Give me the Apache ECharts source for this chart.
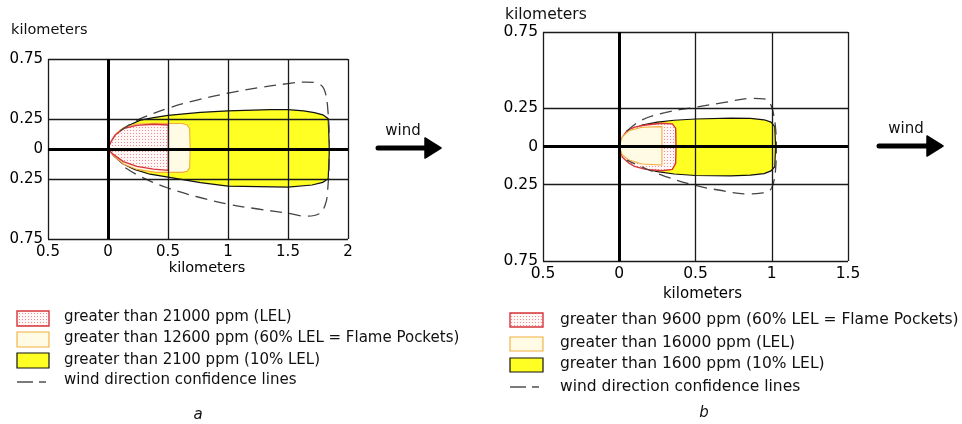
<!DOCTYPE html>
<html><head><meta charset="utf-8">
<script src="https://cdn.jsdelivr.net/npm/echarts@6/dist/echarts.min.js"></script>
<style>html,body{margin:0;padding:0;background:#fff}#c{width:962px;height:424px}</style>
</head><body><div id="c"></div>
<script>
// ---- tick values ----
const xTicksA = [-0.5, 0, 0.5, 1, 1.5, 2];
const xTicksB = [-0.5, 0, 0.5, 1, 1.5];
const yTicks = [-0.75, -0.25, 0, 0.25, 0.75];

// ---- panel a zones (km downwind, km crosswind) ----
const aYellow = [[0,0],[0.03,0.06],[0.07,0.12],[0.12,0.165],[0.18,0.2],[0.27,0.24],[0.38,0.262],[0.5,0.28],[0.77,0.305],[1.0,0.318],[1.35,0.328],[1.5,0.328],[1.63,0.317],[1.72,0.303],[1.79,0.285],[1.835,0.253],[1.845,0],[1.835,-0.247],[1.79,-0.278],[1.7,-0.3],[1.5,-0.317],[1.0,-0.31],[0.77,-0.28],[0.5,-0.235],[0.35,-0.21],[0.22,-0.17],[0.12,-0.12],[0.05,-0.06]];
const aCream = [[0,0],[0.03,0.07],[0.07,0.13],[0.13,0.18],[0.24,0.208],[0.4,0.215],[0.62,0.212],[0.66,0.2],[0.68,0.17],[0.685,0],[0.68,-0.16],[0.66,-0.185],[0.62,-0.195],[0.4,-0.195],[0.24,-0.17],[0.13,-0.125],[0.05,-0.06]];
const aRed = [[0,0],[0.025,0.06],[0.058,0.114],[0.128,0.17],[0.24,0.197],[0.378,0.206],[0.503,0.2],[0.503,-0.178],[0.378,-0.168],[0.24,-0.145],[0.128,-0.105],[0.044,-0.045]];
const aConf = [[0.1,0.15],[0.2,0.215],[0.3,0.265],[0.5,0.34],[0.75,0.41],[1.0,0.465],[1.25,0.51],[1.5,0.545],[1.65,0.558],[1.75,0.545],[1.8,0.5],[1.83,0.35],[1.845,0],[1.83,-0.35],[1.81,-0.465],[1.76,-0.54],[1.65,-0.56],[1.5,-0.535],[1.25,-0.5],[1.0,-0.46],[0.75,-0.4],[0.5,-0.325],[0.27,-0.23],[0.12,-0.14]];

// ---- panel b zones ----
const bYellow = [[0,0],[0.02,0.05],[0.064,0.1],[0.15,0.14],[0.25,0.16],[0.36,0.172],[0.5,0.18],[0.73,0.186],[0.86,0.184],[0.95,0.175],[0.995,0.16],[1.02,0.13],[1.025,0],[1.02,-0.132],[0.995,-0.16],[0.95,-0.178],[0.86,-0.188],[0.73,-0.193],[0.5,-0.19],[0.36,-0.18],[0.25,-0.165],[0.15,-0.14],[0.064,-0.105],[0.02,-0.05]];
const bPink = [[0,0],[0.02,0.06],[0.052,0.104],[0.1,0.127],[0.173,0.141],[0.28,0.152],[0.348,0.148],[0.37,0.12],[0.372,0],[0.37,-0.11],[0.348,-0.15],[0.28,-0.159],[0.173,-0.15],[0.1,-0.13],[0.064,-0.11],[0.02,-0.07]];
const bCream = [[0,0],[0.02,0.064],[0.064,0.104],[0.15,0.126],[0.28,0.13],[0.28,-0.121],[0.15,-0.115],[0.064,-0.089],[0.02,-0.056]];
const bConf = [[0.05,0.1],[0.14,0.17],[0.3,0.222],[0.5,0.257],[0.7,0.29],[0.86,0.315],[0.95,0.312],[0.99,0.28],[1.01,0.22],[1.025,0.12],[1.03,0],[1.025,-0.15],[1.008,-0.25],[0.985,-0.29],[0.93,-0.305],[0.84,-0.31],[0.65,-0.285],[0.5,-0.255],[0.3,-0.195],[0.14,-0.13],[0.05,-0.089]];

// ---- legend texts ----
const legendA = ['greater than 21000 ppm (LEL)', 'greater than 12600 ppm (60% LEL = Flame Pockets)', 'greater than 2100 ppm (10% LEL)', 'wind direction confidence lines'];
const legendB = ['greater than 9600 ppm (60% LEL = Flame Pockets)', 'greater than 16000 ppm (LEL)', 'greater than 1600 ppm (10% LEL)', 'wind direction confidence lines'];
const axisTitle = 'kilometers';

const FONT = 'DejaVu Sans';
function dotPattern() {
  const c = document.createElement('canvas'); c.width = 3; c.height = 3;
  const g = c.getContext('2d');
  g.fillStyle = '#fff6f6'; g.fillRect(0,0,3,3);
  g.fillStyle = '#ef8e8e'; g.fillRect(1,1,1,1);
  return {image: c, repeat: 'repeat'};
}
const pinkFill = dotPattern();
const styleRed = {fill: pinkFill, stroke: '#d8343a', lineWidth: 1.4};
const styleCream = {fill: '#fffbe4', stroke: '#f4ad3c', lineWidth: 1.1};
const styleYellow = {fill: '#ffff24', stroke: '#111', lineWidth: 1.2};

function fmt(v) { return String(Math.abs(v)); }
const yColors = [];
for (let v = -0.75; v <= 0.7501; v += 0.25) yColors.push(yTicks.includes(v) ? '#1a1a1a' : 'rgba(0,0,0,0)');

function polySeries(gi, pts, style, z) {
  return {
    type: 'custom', xAxisIndex: gi, yAxisIndex: gi, z: z, silent: true, clip: true,
    data: pts, encode: {x: 0, y: 1},
    renderItem: function (params, api) {
      if (params.dataIndex !== 0) return null;
      return {type: 'polygon', shape: {points: pts.map(p => api.coord(p))}, style: style};
    }
  };
}
function confSeries(gi, pts) {
  return {
    type: 'line', xAxisIndex: gi, yAxisIndex: gi, data: pts, showSymbol: false, silent: true,
    smooth: 0.4, z: 4, lineStyle: {type: [12, 7], color: '#444', width: 1.3},
    markLine: {silent: true, symbol: 'none', label: {show: false}, animation: false,
      lineStyle: {color: '#000', width: 3, type: 'solid'}, data: [{xAxis: 0}, {yAxis: 0}]}
  };
}
function xAxis(gi, max, fs, gap, padL, margin) {
  return {gridIndex: gi, type: 'value', min: -0.5, max: max, interval: 0.5, z: 5,
    axisLine: {show: false}, axisTick: {show: false},
    axisLabel: {formatter: fmt, fontSize: fs, color: '#000', margin: margin, fontFamily: FONT},
    splitLine: {show: true, lineStyle: {color: '#1a1a1a', width: 1.3}},
    name: axisTitle, nameLocation: 'middle', nameGap: gap,
    nameTextStyle: {fontSize: fs - 0.5, color: '#000', fontFamily: FONT, padding: [0, 0, 0, padL]}};
}
function yAxis(gi, fs) {
  return {gridIndex: gi, type: 'value', min: -0.75, max: 0.75, interval: 0.25, z: 5,
    axisLine: {show: false}, axisTick: {show: false},
    axisLabel: {formatter: v => yTicks.includes(v) ? fmt(v) : '', fontSize: fs, color: '#000', margin: 5, fontFamily: FONT},
    splitLine: {show: true, lineStyle: {color: yColors, width: 1.3}}};
}

function legend(x0, iconW, iconH, rowsY, dashY, textX, textYs, texts, styles, fs) {
  const els = [];
  for (let i = 0; i < 3; i++) {
    els.push({type: 'rect', shape: {x: x0, y: rowsY[i], width: iconW, height: iconH}, style: styles[i]});
  }
  els.push({type: 'line', shape: {x1: x0, y1: dashY, x2: x0 + 16, y2: dashY}, style: {stroke: '#333', lineWidth: 1.3}});
  els.push({type: 'line', shape: {x1: x0 + 22, y1: dashY, x2: x0 + 29, y2: dashY}, style: {stroke: '#333', lineWidth: 1.3}});
  for (let i = 0; i < 4; i++) {
    els.push({type: 'text', x: textX, y: textYs[i], style: {text: texts[i], fill: '#111', font: fs + 'px "' + FONT + '"', align: 'left', verticalAlign: 'middle'}});
  }
  return els;
}
function arrow(x1, x2, y, tx, ty) {
  return [
    {type: 'line', shape: {x1: x1, y1: y, x2: x2, y2: y}, style: {stroke: '#000', lineWidth: 5, lineCap: 'round'}},
    {type: 'polygon', shape: {points: [[x2 - 5, y - 10], [x2 + 11, y], [x2 - 5, y + 10]]}, style: {fill: '#000', stroke: '#000', lineWidth: 1.5, lineJoin: 'round'}},
    {type: 'text', x: tx, y: ty, style: {text: 'wind', fill: '#111', font: '15px "' + FONT + '"', align: 'center', verticalAlign: 'middle'}}
  ];
}

const chart = echarts.init(document.getElementById('c'), null, {renderer: 'canvas'});
chart.setOption({
  backgroundColor: '#fff', animation: false,
  textStyle: {fontFamily: FONT},
  grid: [
    {left: 48, top: 59, width: 300, height: 180},
    {left: 543, top: 32, width: 305, height: 229}
  ],
  xAxis: [xAxis(0, 2, 15, 20, 18, 6), xAxis(1, 1.5, 15.5, 21, 14, 5)],
  yAxis: [yAxis(0, 15), yAxis(1, 15.5)],
  series: [
    polySeries(0, aYellow, styleYellow, 1),
    polySeries(0, aCream, styleCream, 2),
    polySeries(0, aRed, styleRed, 3),
    confSeries(0, aConf),
    polySeries(1, bYellow, styleYellow, 1),
    polySeries(1, bPink, styleRed, 2),
    polySeries(1, bCream, styleCream, 3),
    confSeries(1, bConf)
  ],
  graphic: [].concat(
    [{type: 'text', x: 11, y: 30, style: {text: axisTitle, fill: '#111', font: '14.5px "' + FONT + '"', align: 'left', verticalAlign: 'middle'}},
     {type: 'text', x: 505, y: 15, style: {text: axisTitle, fill: '#111', font: '15.5px "' + FONT + '"', align: 'left', verticalAlign: 'middle'}}],
    legend(17, 32, 15, [311, 332, 353], 382, 64, [317, 338, 360, 380], legendA, [styleRed, styleCream, styleYellow], 15),
    legend(510, 33, 14, [313, 337, 358], 387, 560, [320, 343, 364, 387], legendB, [styleRed, styleCream, styleYellow], 15.5),
    arrow(378, 430, 148, 403, 131),
    arrow(879, 932, 146, 906, 129),
    [{type: 'text', x: 198, y: 415, style: {text: 'a', fill: '#111', font: 'italic 15px "' + FONT + '"', align: 'center', verticalAlign: 'middle'}},
     {type: 'text', x: 704, y: 413, style: {text: 'b', fill: '#111', font: 'italic 15px "' + FONT + '"', align: 'center', verticalAlign: 'middle'}}]
  )
});
</script></body></html>
